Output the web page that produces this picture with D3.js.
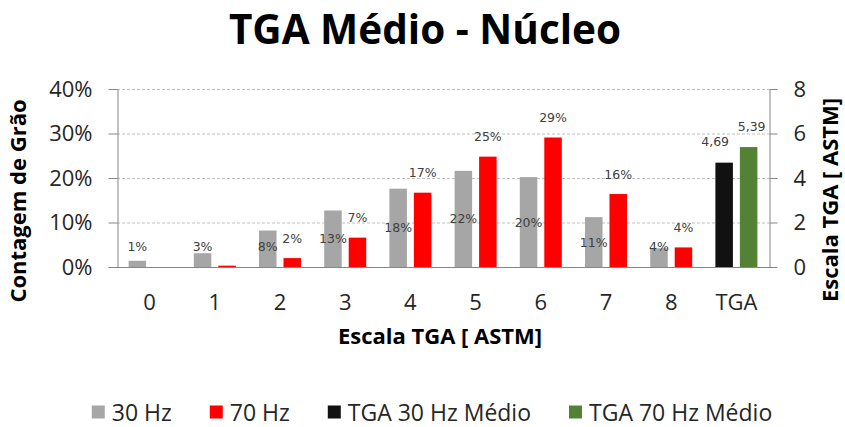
<!DOCTYPE html>
<html>
<head>
<meta charset="utf-8">
<script src="https://cdn.jsdelivr.net/npm/d3@7"></script>
<style>
  html, body { margin: 0; padding: 0; background: #fff; }
  svg { display: block; }
</style>
</head>
<body>
<svg id="chart" width="845" height="427"></svg>
<script>
// Grain-size categories on the ASTM scale, plus the mean column
const categories = ['0', '1', '2', '3', '4', '5', '6', '7', '8', 'TGA'];
// Grain count share per ASTM class (%)
const hz30 = [1.4, 3.1, 8.2, 12.7, 17.6, 21.6, 20.2, 11.2, 4.2];
const hz70 = [0, 0.3, 2.0, 6.6, 16.7, 24.8, 29.1, 16.4, 4.4];
// Mean ASTM grain size (secondary axis)
const tgaMean30 = [4.69];
const tgaMean70 = [5.39];
const leftTicks = [0, 10, 20, 30, 40];
const rightTicks = [0, 2, 4, 6, 8];
const seriesNames = ['30 Hz', '70 Hz', 'TGA 30 Hz Médio', 'TGA 70 Hz Médio'];
const seriesColors = ['#A6A6A6', '#FF0000', '#111111', '#548235'];

const FONT = "'Open Sans', sans-serif";
const LABEL_FONT = "'DejaVu Sans', sans-serif";
const svg = d3.select('#chart');
const m = { left: 117, right: 769, top: 89, bottom: 267 };

const x = d3.scaleBand().domain(categories).range([m.left, m.right]).padding(0);
const xSub = d3.scaleBand().domain([0, 1]).range([11.6, x.bandwidth() - 11.6]).paddingInner(0.285);
const y = d3.scaleLinear().domain([0, 40]).range([m.bottom, m.top]);
const y2 = d3.scaleLinear().domain([0, 8]).range([m.bottom, m.top]);

// Title
svg.append('text')
  .attr('x', 425).attr('y', 44)
  .attr('text-anchor', 'middle')
  .style('font-family', FONT).style('font-weight', 'bold').style('font-size', '40.5px')
  .style('fill', '#000')
  .text('TGA Médio - Núcleo');

// Gridlines
svg.append('g').selectAll('line')
  .data(leftTicks.filter(d => d > 0))
  .join('line')
  .attr('x1', m.left).attr('x2', m.right)
  .attr('y1', d => y(d) + 0.5).attr('y2', d => y(d) + 0.5)
  .attr('stroke', '#BFBFBF').attr('stroke-width', 1).attr('stroke-dasharray', '3,2');

// Left axis
const axL = svg.append('g').attr('transform', `translate(${m.left + 0.5},0)`)
  .call(d3.axisLeft(y).tickValues(leftTicks).tickFormat(d => d + '%').tickSize(9).tickPadding(16).tickSizeOuter(0));
// Right axis
const axR = svg.append('g').attr('transform', `translate(${m.right + 0.5},0)`)
  .call(d3.axisRight(y2).tickValues(rightTicks).tickSize(8).tickPadding(16).tickSizeOuter(0));
[axL, axR].forEach(g => {
  g.select('.domain').attr('stroke', '#868686');
  g.selectAll('.tick line').attr('stroke', '#868686');
  g.selectAll('.tick text').style('font-family', FONT).style('font-size', '22px').style('fill', '#262626');
});

// Bars: 30 Hz and 70 Hz on the primary axis
const bars = svg.append('g');
[hz30, hz70].forEach((vals, s) => {
  bars.selectAll(null)
    .data(vals.map((v, i) => ({ v, c: categories[i] })))
    .join('rect')
    .attr('x', d => x(d.c) + xSub(s))
    .attr('width', xSub.bandwidth())
    .attr('y', d => y(d.v))
    .attr('height', d => y(0) - y(d.v))
    .attr('fill', seriesColors[s]);
});
// Mean bars on the secondary axis
[tgaMean30, tgaMean70].forEach((vals, s) => {
  bars.selectAll(null)
    .data(vals)
    .join('rect')
    .attr('x', x('TGA') + xSub(s))
    .attr('width', xSub.bandwidth())
    .attr('y', d => y2(d))
    .attr('height', d => y2(0) - y2(d))
    .attr('fill', seriesColors[s + 2]);
});

// X axis baseline and labels
svg.append('line')
  .attr('x1', m.left).attr('x2', m.right + 1)
  .attr('y1', m.bottom + 0.5).attr('y2', m.bottom + 0.5)
  .attr('stroke', '#868686');
const axB = svg.append('g').attr('transform', `translate(0,${m.bottom})`)
  .call(d3.axisBottom(x).tickSize(0).tickPadding(27));
axB.select('.domain').remove();
axB.selectAll('.tick text').style('font-family', FONT).style('font-size', '22px').style('fill', '#262626');

// Data labels
const lab = svg.append('g')
  .style('font-family', LABEL_FONT).style('font-size', '12.5px').style('fill', '#404040')
  .attr('text-anchor', 'middle').attr('dominant-baseline', 'central');
const pct = v => Math.round(v) + '%';
lab.selectAll(null)
  .data(hz30.map((v, i) => ({ v, c: categories[i] })).filter(d => Math.round(d.v) > 0))
  .join('text')
  .attr('x', d => x(d.c) + xSub(0) + xSub.bandwidth() / 2)
  .attr('y', d => Math.min(y(d.v / 2), y(0) - 21))
  .text(d => pct(d.v));
lab.selectAll(null)
  .data(hz70.map((v, i) => ({ v, c: categories[i] })).filter(d => Math.round(d.v) > 0))
  .join('text')
  .attr('x', d => x(d.c) + xSub(1) + xSub.bandwidth() / 2)
  .attr('y', d => y(d.v) - 20)
  .text(d => pct(d.v));
const comma = v => d3.format('.2f')(v).replace('.', ',');
[[tgaMean30, 0, -9], [tgaMean70, 1, 3]].forEach(([vals, s, dx]) => {
  lab.selectAll(null)
    .data(vals)
    .join('text')
    .attr('x', x('TGA') + xSub(s) + xSub.bandwidth() / 2 + dx)
    .attr('y', d => y2(d) - 21)
    .text(d => comma(d));
});

// Axis titles
const titleStyle = sel => sel.style('font-family', FONT).style('font-weight', 'bold')
  .style('font-size', '22px').style('fill', '#000').attr('text-anchor', 'middle');
svg.append('text').call(titleStyle)
  .attr('transform', 'translate(26,201) rotate(-90)')
  .text('Contagem de Grão');
svg.append('text').call(titleStyle)
  .attr('transform', 'translate(838,200) rotate(-90)')
  .text('Escala TGA [ ASTM]');
svg.append('text').call(titleStyle)
  .attr('x', 440).attr('y', 344)
  .text('Escala TGA [ ASTM]');

// Legend, centred under the plot
const legend = svg.append('g');
let lx = 0;
seriesNames.forEach((name, i) => {
  const g = legend.append('g').attr('transform', `translate(${lx},0)`);
  g.append('rect').attr('x', 0).attr('y', -6.5).attr('width', 13).attr('height', 13).attr('fill', seriesColors[i]);
  const t = g.append('text').attr('x', 20).attr('y', 0)
    .attr('dominant-baseline', 'central')
    .style('font-family', FONT)
    .style('font-size', '23px').style('fill', '#262626')
    .text(name);
  lx += 20 + t.node().getComputedTextLength() + (i < seriesNames.length - 1 ? 38 : 0);
});
legend.attr('transform', `translate(${432 - lx / 2},412)`);
</script>
</body>
</html>
